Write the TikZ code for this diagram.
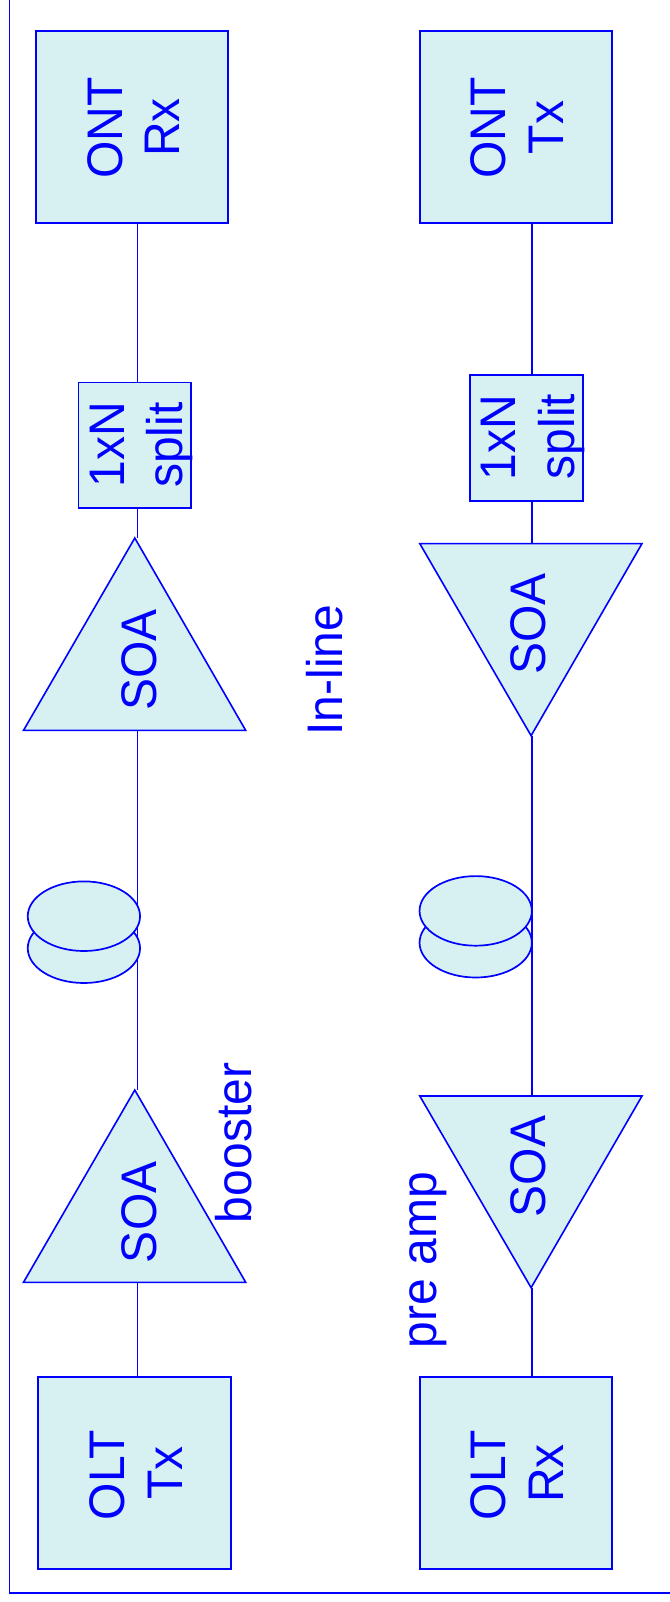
\documentclass[tikz,border=0pt]{standalone}
\usepackage{fontspec}
\setmainfont[FakeStretch=0.96]{Liberation Sans}
\usetikzlibrary{shapes.geometric}
\definecolor{ln}{RGB}{0,0,255}
\definecolor{pale}{RGB}{215,241,243}
\tikzset{
  boxnode/.style={draw=ln,fill=pale,line width=1.9pt,rectangle,inner sep=0,outer sep=0},
  ovalnode/.style={draw=ln,fill=pale,line width=1.7pt,ellipse,inner sep=0,outer sep=0,minimum width=112.3pt,minimum height=69.6pt},
  tri/.style={draw=ln,fill=pale,line width=1.6pt,line join=miter},
  wire/.style={draw=ln,line width=1.4pt},
  lab/.style={text=ln,rotate=90,anchor=base west,inner sep=0,outer sep=0,font=\fontsize{50}{50}\selectfont},
}
\begin{document}
\begin{tikzpicture}[x=1pt,y=-1pt]
\useasboundingbox (0,0) rectangle (669,1602);
% frame
\draw[draw=ln,line width=1.4pt] (9.4,-2) -- (9.4,1593) -- (671,1593);
% boxes
\node[boxnode,minimum width=192.4pt,minimum height=192pt] (ontrx) at (132.1,127) {};
\node[boxnode,minimum width=192.4pt,minimum height=192pt] (onttx) at (516,127) {};
\node[boxnode,minimum width=192.4pt,minimum height=192pt] (olttx) at (134.6,1473) {};
\node[boxnode,minimum width=192.4pt,minimum height=192pt] (oltrx) at (516,1473) {};
\node[boxnode,minimum width=112.2pt,minimum height=125.7pt] (splitl) at (134.6,445.3) {};
\node[boxnode,minimum width=112.7pt,minimum height=126.1pt] (splitr) at (526.4,437.6) {};
% wire guides
\coordinate (wl) at (137.4,0);
\coordinate (wr) at (532,0);
% triangle corners
\coordinate (ta) at (134.8,538);   \coordinate (tab) at (23.5,730.4);  \coordinate (tac) at (245.7,730.4);
\coordinate (tb) at (134.8,1090);  \coordinate (tbb) at (23.5,1282.3); \coordinate (tbc) at (245.7,1282.3);
\coordinate (tc) at (531.1,735.7); \coordinate (tcb) at (419.8,543.6); \coordinate (tcc) at (642,543.6);
\coordinate (td) at (531.1,1287.7);\coordinate (tdb) at (419.8,1096);  \coordinate (tdc) at (642,1096);
% connectors
\draw[wire] (wl |- ontrx.south) -- (wl |- splitl.north);
\draw[wire] (wl |- splitl.south) -- (wl |- ta);
\draw[wire] (wl |- tab) -- (wl |- tb);
\draw[wire] (wl |- tbb) -- (wl |- olttx.north);
\draw[wire] (wr |- onttx.south) -- (wr |- splitr.north);
\draw[wire] (wr |- splitr.south) -- (wr |- tcb);
\draw[wire] (wr |- tc) -- (wr |- tdb);
\draw[wire] (wr |- td) -- (wr |- oltrx.north);
% triangles
\draw[tri] (ta) -- (tab) -- (tac) -- cycle;
\draw[tri] (tb) -- (tbb) -- (tbc) -- cycle;
\draw[tri] (tc) -- (tcb) -- (tcc) -- cycle;
\draw[tri] (td) -- (tdb) -- (tdc) -- cycle;
% fibre spools
\node[ovalnode] (spoollb) at (83.9,948.2) {};
\node[ovalnode] (spoollt) at (83.9,916.2) {};
\node[ovalnode] (spoolrb) at (475.7,942.7) {};
\node[ovalnode] (spoolrt) at (475.7,910.9) {};
% labels
\node[lab] (t1) at (122.4,178.7) {ONT};
\node[lab] (t2) at (179,157) {Rx};
\node[lab] (t3) at (505.5,178.7) {ONT};
\node[lab] (t4) at (563,154.1) {Tx};
\node[lab] (t5) at (124.1,487) {1xN};
\node[lab] (t6) at (182.6,487.8) {split};
\node[lab] (t7) at (515.8,480) {1xN};
\node[lab] (t8) at (574.2,479.2) {split};
\node[lab] (t9) at (156.1,710.8) {SOA};
\node[lab] (t10) at (545.2,674.4) {SOA};
\node[lab] (t11) at (156.1,1263) {SOA};
\node[lab] (t12) at (545.2,1217.2) {SOA};
\node[lab] (t13) at (124.1,1520) {OLT};
\node[lab] (t14) at (182.2,1499.9) {Tx};
\node[lab] (t15) at (505.5,1520) {OLT};
\node[lab] (t16) at (563,1502.7) {Rx};
\node[lab] (t17) at (251.7,1223) {booster};
\node[lab] (t18) at (436,1348) {pre amp};
\node[lab] (t19) at (342.6,735.4) {In-line};
\end{tikzpicture}
\end{document}
